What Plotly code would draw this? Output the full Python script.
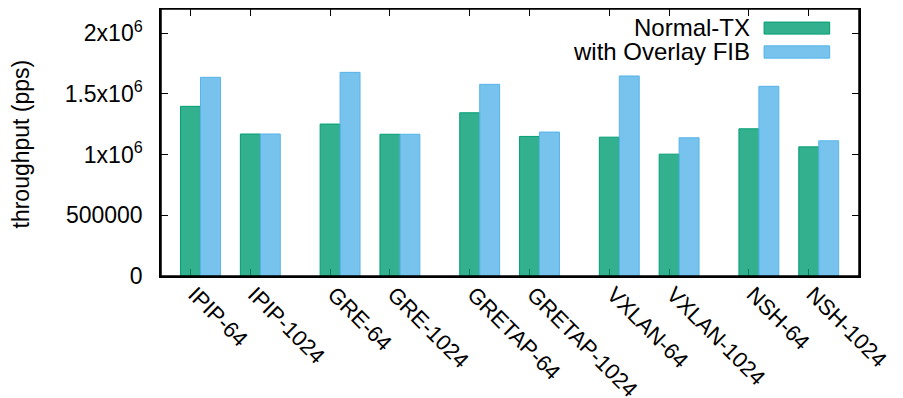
import plotly.graph_objects as go

categories = ["IPIP-64", "IPIP-1024", "GRE-64", "GRE-1024", "GRETAP-64",
              "GRETAP-1024", "VXLAN-64", "VXLAN-1024", "NSH-64", "NSH-1024"]
positions = [0, 3, 7, 10, 14, 17, 21, 24, 28, 31]
normal_tx = [1.398e6, 1.170e6, 1.252e6, 1.168e6, 1.345e6,
             1.150e6, 1.144e6, 1.004e6, 1.213e6, 1.064e6]
overlay_fib = [1.637e6, 1.170e6, 1.678e6, 1.168e6, 1.579e6,
               1.186e6, 1.648e6, 1.139e6, 1.563e6, 1.114e6]
ytick_vals = [0, 500000, 1000000, 1500000, 2000000]
ytick_text = ["0", "500000", "1x10<sup>6</sup>", "1.5x10<sup>6</sup>", "2x10<sup>6</sup>"]

GREEN_FILL = "rgba(0,158,115,0.8)"
GREEN_LINE = "#009E73"
BLUE_FILL = "rgba(86,180,233,0.8)"
BLUE_LINE = "#56B4E9"
FONT = "Liberation Sans, Arial, Helvetica, sans-serif"
FS = 23

fig = go.Figure()
fig.add_trace(go.Bar(x=positions, y=normal_tx, name="Normal-TX", width=1, offset=-0.5,
                     marker=dict(color=GREEN_FILL, line=dict(color=GREEN_LINE, width=1)),
                     showlegend=False))
fig.add_trace(go.Bar(x=positions, y=overlay_fib, name="with Overlay FIB", width=1, offset=0.5,
                     marker=dict(color=BLUE_FILL, line=dict(color=BLUE_LINE, width=1)),
                     showlegend=False))

# manual legend (gnuplot style: text then swatch)
legend_items = [("Normal-TX", GREEN_FILL, GREEN_LINE, 0.93, 0.951, 0.906),
                ("with Overlay FIB", BLUE_FILL, BLUE_LINE, 0.84, 0.862, 0.816)]
for label, fill, line, ty, y1, y0 in legend_items:
    fig.add_annotation(x=0.845, y=ty, xref="paper", yref="paper", text=label,
                       showarrow=False, xanchor="right", yanchor="middle",
                       borderpad=0,
                       font=dict(family=FONT, size=24, color="black"))
    fig.add_shape(type="rect", xref="paper", yref="paper", x0=0.864, x1=0.958,
                  y0=y0, y1=y1, fillcolor=fill, line=dict(color=line, width=1))

# y-axis title
fig.add_annotation(x=-0.2, y=0.494, xref="paper", yref="paper", text="throughput (pps)",
                   textangle=-90, showarrow=False, xanchor="center", yanchor="middle",
                   borderpad=0,
                   font=dict(family=FONT, size=FS, color="black"))

# frame
fig.add_shape(type="rect", xref="paper", yref="paper", x0=0, x1=1, y0=0, y1=1,
              line=dict(color="black", width=1.5), layer="above")

fig.update_layout(
    width=895, height=390,
    margin=dict(l=153, r=44, t=1, b=122),
    paper_bgcolor="white", plot_bgcolor="white",
    barmode="overlay",
    font=dict(family=FONT, size=FS, color="black"),
    xaxis=dict(range=[-1.48, 33.52], tickvals=positions, ticktext=categories,
               tickangle=45, ticks="inside", ticklen=7, tickwidth=1, tickcolor="black",
               showline=True, linecolor="black", linewidth=1.5, mirror="ticks",
               showgrid=False, zeroline=False, layer="below traces", automargin=False,
               ticklabelstandoff=-5, ticklabelshift=4,
               tickfont=dict(family=FONT, size=22)),
    yaxis=dict(range=[0, 2.2e6], tickvals=ytick_vals, ticktext=ytick_text,
               ticks="inside", ticklen=7, tickwidth=1, tickcolor="black",
               showline=True, linecolor="black", linewidth=1.5, mirror="ticks",
               showgrid=False, zeroline=False, automargin=False, ticklabelstandoff=12,
               tickfont=dict(family=FONT, size=FS)),
)

fig.write_html("out.html")
